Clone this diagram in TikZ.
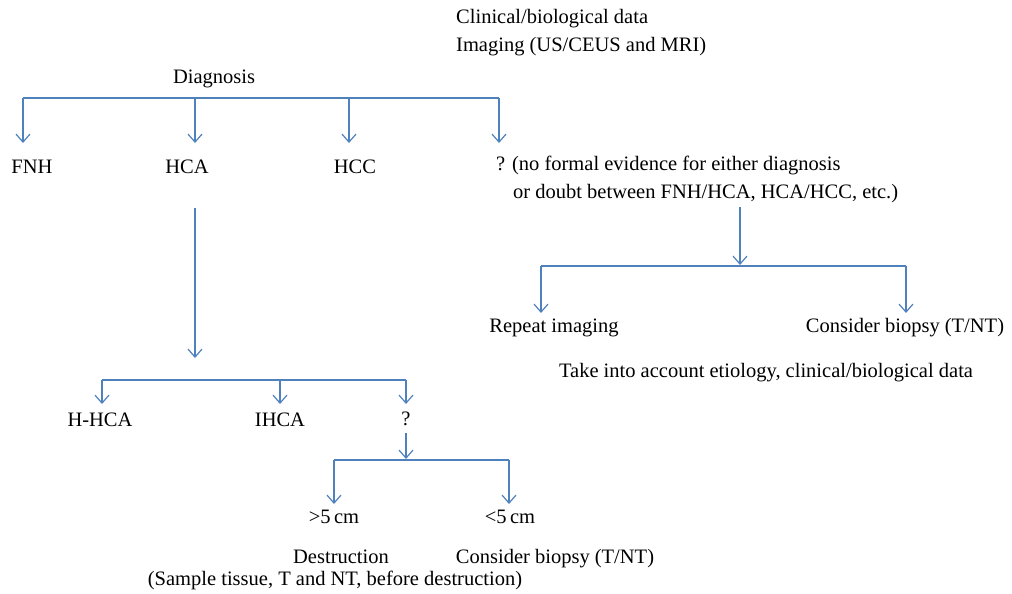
\documentclass[tikz,border=0pt]{standalone}
\usepackage{fontspec}
\setmainfont{Liberation Serif}
\usetikzlibrary{arrows.meta}
\definecolor{lineblue}{RGB}{79,129,189}
\tikzset{
  lbl/.style={inner sep=0pt, anchor=base, font=\fontsize{20.5}{24}\selectfont, text=black},
  conn/.style={draw=lineblue, line width=1.2pt},
  arr/.style={conn, -{Straight Barb[length=8pt,width=14pt,line width=1.2pt]}}
}
\begin{document}
\begin{tikzpicture}[x=1pt,y=-1pt]
\useasboundingbox (0,0) rectangle (1012,594);
% top texts
\node[lbl, anchor=base west] (clin) at (456,24) {Clinical/biological data};
\node[lbl, anchor=base west] (img) at (456,52) {Imaging (US/CEUS and MRI)};
\node[lbl] (diag) at (214,84) {Diagnosis};
% level 1
\node[lbl] (fnh) at (32,173) {FNH};
\node[lbl] (hca) at (187,173) {HCA};
\node[lbl] (hcc) at (355,173) {HCC};
\node[lbl, anchor=base west] (q1) at (496,170) {? (no formal evidence for either diagnosis};
\node[lbl, anchor=base west] (q1b) at (513,198) {or doubt between FNH/HCA, HCA/HCC, etc.)};
\coordinate (b1l) at (23,98);
\coordinate (b1r) at (499,98);
\coordinate (b1a) at (195,98);
\coordinate (b1b) at (349,98);
\coordinate (t1a) at (23,143);
\coordinate (t1b) at (195,143);
\coordinate (t1c) at (349,143);
\coordinate (t1d) at (499,143);
\draw[conn] (b1l) -- (b1r);
\draw[arr] (b1l) -- (t1a);
\draw[arr] (b1a) -- (t1b);
\draw[arr] (b1b) -- (t1c);
\draw[arr] (b1r) -- (t1d);
% right branch
\coordinate (r0) at (740,207);
\coordinate (r1) at (740,265);
\coordinate (r1l) at (541,266);
\coordinate (r1r) at (906,266);
\coordinate (r2l) at (541,313);
\coordinate (r2r) at (906,313);
\draw[arr] (r0) -- (r1);
\draw[conn] (r1l) -- (r1r);
\draw[arr] (r1l) -- (r2l);
\draw[arr] (r1r) -- (r2r);
\node[lbl] (rep) at (554,332) {Repeat imaging};
\node[lbl] (cb1) at (905,332) {Consider biopsy (T/NT)};
\node[lbl] (take) at (766,377) {Take into account etiology, clinical/biological data};
% HCA branch
\coordinate (h0) at (195,208);
\coordinate (h1) at (195,358);
\draw[arr] (h0) -- (h1);
\coordinate (b2l) at (102,380);
\coordinate (b2m) at (280,380);
\coordinate (b2r) at (406,380);
\coordinate (t2a) at (102,404);
\coordinate (t2b) at (280,404);
\coordinate (t2c) at (406,404);
\draw[conn] (b2l) -- (b2r);
\draw[arr] (b2l) -- (t2a);
\draw[arr] (b2m) -- (t2b);
\draw[arr] (b2r) -- (t2c);
\node[lbl] (hhca) at (100,426) {H-HCA};
\node[lbl] (ihca) at (280,426) {IHCA};
\node[lbl] (q2) at (406,425) {?};
% ? branch
\coordinate (q0) at (406,433);
\coordinate (q1c) at (406,459);
\coordinate (b3l) at (334,460);
\coordinate (b3r) at (509,460);
\coordinate (t3a) at (334,504);
\coordinate (t3b) at (509,504);
\draw[arr] (q0) -- (q1c);
\draw[conn] (b3l) -- (b3r);
\draw[arr] (b3l) -- (t3a);
\draw[arr] (b3r) -- (t3b);
\node[lbl] (gt) at (334,523) {>5\,cm};
\node[lbl] (lt) at (510,523) {<5\,cm};
\node[lbl] (dest) at (341,563) {Destruction};
\node[lbl] (samp) at (335,585) {(Sample tissue, T and NT, before destruction)};
\node[lbl] (cb2) at (555,563) {Consider biopsy (T/NT)};
\end{tikzpicture}
\end{document}
